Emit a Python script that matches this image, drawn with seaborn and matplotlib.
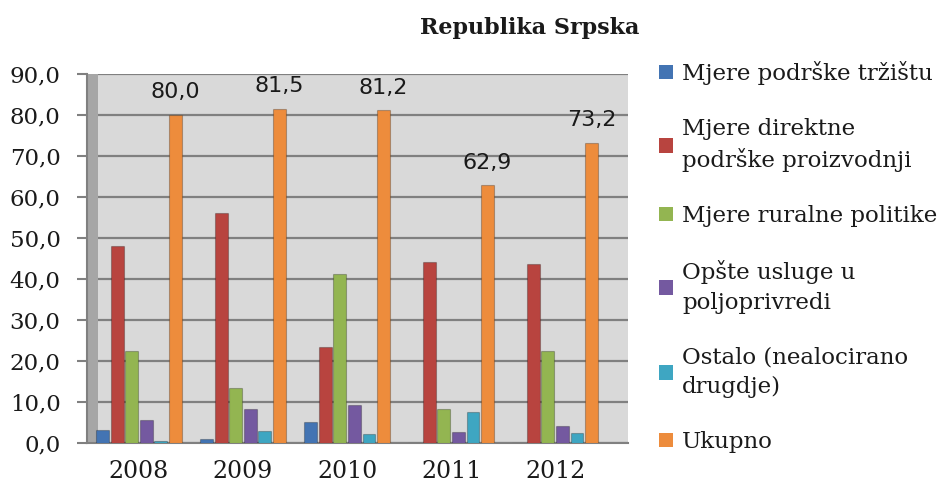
import matplotlib
matplotlib.use("Agg")
import matplotlib.pyplot as plt
import matplotlib.patches as mpatches
from matplotlib.ticker import FuncFormatter
import seaborn as sns
import pandas as pd

years = ["2008", "2009", "2010", "2011", "2012"]
categories = ["Mjere podrške tržištu",
              "Mjere direktne\npodrške proizvodnji",
              "Mjere ruralne politike",
              "Opšte usluge u\npoljoprivredi",
              "Ostalo (nealocirano\ndrugdje)",
              "Ukupno"]
trziste = [3.2, 1.0, 5.2, 0.1, 0.1]
direktna = [48.1, 56.0, 23.5, 44.2, 43.7]
ruralna = [22.5, 13.3, 41.2, 8.3, 22.5]
opste = [5.7, 8.2, 9.2, 2.7, 4.2]
ostalo = [0.5, 3.0, 2.1, 7.6, 2.5]
ukupno = [80.0, 81.5, 81.2, 62.9, 73.2]
colors = ["#4374b3", "#b8443f", "#93b551", "#7459a0", "#3ea6c2", "#ed8c3c"]

series = [trziste, direktna, ruralna, opste, ostalo, ukupno]
rows = []
for cat, vals in zip(categories, series):
    for y, v in zip(years, vals):
        rows.append({"godina": y, "mjera": cat, "vrijednost": v})
df = pd.DataFrame(rows)

sns.set_style("white")
plt.rcParams["font.family"] = ["DejaVu Serif"]

fig = plt.figure(figsize=(9.45, 4.87), dpi=100)
ax = fig.add_axes([87 / 945, 1 - 443 / 487, (628 - 87) / 945, (443 - 74) / 487])
ax.set_facecolor("#d9d9d9")

sns.barplot(data=df, x="godina", y="vrijednost", hue="mjera", hue_order=categories,
            palette=colors, saturation=1, width=0.84, gap=0.12, legend=False, ax=ax,
            edgecolor="#00000040", linewidth=0.8, zorder=3)

ax.set_ylim(0, 90)
ax.set_xlim(-0.5, 4.7)
ax.set_yticks(range(0, 91, 10))
ax.yaxis.set_major_formatter(FuncFormatter(lambda v, p: f"{v:.1f}".replace(".", ",")))
ax.grid(axis="y", color="#808080", linewidth=1.6, zorder=0)
ax.set_axisbelow(True)
ax.set_xlabel("")
ax.set_ylabel("")

# bočni zid (3D izgled)
ax.axvspan(-0.5, -0.39, color="#a6a6a6", zorder=1, lw=0)

for side in ["top", "right"]:
    ax.spines[side].set_visible(False)
for side in ["left", "bottom"]:
    ax.spines[side].set_color("#808080")
    ax.spines[side].set_linewidth(1.5)

ax.set_xticks([-0.5, 0.5, 1.5, 2.5, 3.5, 4.5], minor=True)
ax.tick_params(axis="x", which="major", length=0, labelsize=17, pad=12, colors="#1a1a1a")
ax.tick_params(axis="x", which="minor", length=7, width=1.5, color="#808080")
ax.tick_params(axis="y", length=7, width=1.5, color="#808080", labelsize=16.5, pad=12,
               labelcolor="#1a1a1a", left=True)

labels = [f"{v:.1f}".replace(".", ",") for v in ukupno]
ax.bar_label(ax.containers[-1], labels=labels, padding=9, fontsize=16,
             color="#1a1a1a", family="DejaVu Sans")

fig.text(530 / 945, 1 - 28 / 487, "Republika Srpska", ha="center", va="center",
         fontsize=16, fontweight="bold", color="#1a1a1a")

handles = [mpatches.Patch(facecolor=c, edgecolor="none") for c in colors]
leg = fig.legend(handles, categories, loc="upper left", bbox_to_anchor=(650 / 945, 1 - 52 / 487),
                 frameon=False, fontsize=16.5, handlelength=0.6, handleheight=0.6,
                 handletextpad=0.4, labelspacing=1.43, borderaxespad=0, labelcolor="#1a1a1a")
for t in leg.get_texts():
    t.set_linespacing(1.45)

fig.savefig("out.png", dpi=100)
